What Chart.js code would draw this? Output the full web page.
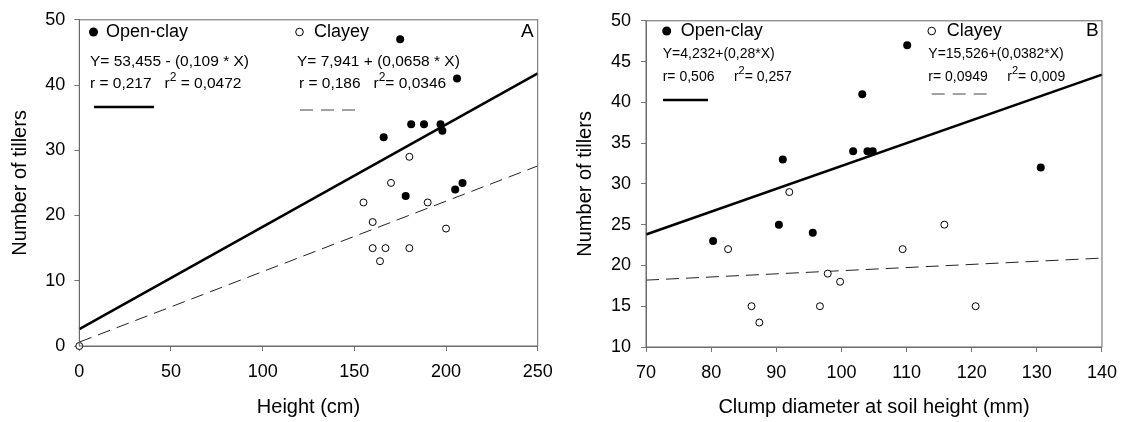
<!DOCTYPE html>
<html>
<head>
<meta charset="utf-8">
<script src="https://cdn.jsdelivr.net/npm/chart.js@4.4.1/dist/chart.umd.min.js"></script>
<style>
  body { margin: 0; background: #fff; width: 1127px; height: 422px; overflow: hidden; position: relative; }
  canvas { position: absolute; top: 0; }
</style>
</head>
<body>
<canvas id="chartA" width="563" height="422" style="left:0px;width:563px;height:422px"></canvas>
<canvas id="chartB" width="564" height="422" style="left:563px;width:564px;height:422px"></canvas>
<script>
// panel A - height vs tillers
const heightOpenClay = [166, 175, 181, 188, 197, 198, 178, 205, 206, 209];
const tillersOpenClayA = [32, 47, 34, 34, 34, 33, 23, 24, 41, 25];
const heightClayey = [0, 155, 160, 160, 164, 167, 170, 180, 180, 190, 200];
const tillersClayeyA = [0, 22, 19, 15, 13, 15, 25, 29, 15, 22, 18];
const fitXA = [0, 250];
const fitOpenClayA = [2.6, 41.8];
const fitClayeyA = [0.6, 27.6];
const xTicksA = [0, 50, 100, 150, 200, 250];
const yTicksA = [0, 10, 20, 30, 40, 50];

// panel B - clump diameter vs tillers
const diamOpenClay = [80.3, 90.4, 91, 95.6, 101.8, 103.2, 104, 104.8, 110.1, 130.6];
const tillersOpenClayB = [23, 25, 33, 24, 34, 41, 34, 34, 47, 32];
const diamClayey = [82.6, 86.2, 87.4, 92, 96.7, 97.9, 99.8, 109.4, 115.8, 120.6];
const tillersClayeyB = [22, 15, 13, 29, 15, 19, 18, 22, 25, 15];
const fitXB = [70, 140];
const fitOpenClayB = [23.8, 43.4];
const fitClayeyB = [18.2, 20.9];
const xTicksB = [70, 80, 90, 100, 110, 120, 130, 140];
const yTicksB = [10, 15, 20, 25, 30, 35, 40, 45, 50];

const FONT = "'Liberation Sans', Arial, sans-serif";

const toPoints = (xs, ys) => xs.map((x, i) => ({ x: x, y: ys[i] }));

function datasets(xOpen, yOpen, xClay, yClay, fitX, fitOpen, fitClay) {
  return [
    {
      type: "scatter", label: "Open-clay", data: toPoints(xOpen, yOpen),
      pointRadius: 4, pointBackgroundColor: "#000", pointBorderColor: "#000", pointBorderWidth: 0, order: 1
    },
    {
      type: "scatter", label: "Clayey", data: toPoints(xClay, yClay),
      pointRadius: 3.5, pointBackgroundColor: "#fff", pointBorderColor: "#000", pointBorderWidth: 1, order: 1
    },
    {
      type: "line", label: "fit open", data: toPoints(fitX, fitOpen),
      borderColor: "#000", borderWidth: 2.5, pointRadius: 0, fill: false, order: 2
    },
    {
      type: "line", label: "fit clayey", data: toPoints(fitX, fitClay),
      borderColor: "#222", borderWidth: 1, borderDash: [13, 7], pointRadius: 0, fill: false, order: 2
    }
  ];
}

function axis(ticks, title, opts) {
  return {
    type: "linear",
    min: ticks[0],
    max: ticks[ticks.length - 1],
    afterBuildTicks: (s) => { s.ticks = ticks.map((v) => ({ value: v })); },
    afterFit: opts.fit,
    grid: { display: true, drawOnChartArea: false, drawTicks: true, tickLength: 5, color: "#777" },
    border: { display: true, color: "#777", width: 1 },
    ticks: { color: "#000", font: { size: 18, family: FONT }, padding: opts.pad, autoSkip: false, maxRotation: 0 },
    title: { display: true, text: title, color: "#000", font: { size: 20, family: FONT }, padding: opts.titlePad }
  };
}

function supText(ctx, x, y, before, after, size) {
  ctx.font = size + "px " + FONT;
  ctx.fillText(before, x, y);
  let w = ctx.measureText(before).width;
  ctx.font = Math.round(size * 0.8) + "px " + FONT;
  ctx.fillText("2", x + w, y - size * 0.42);
  w += ctx.measureText("2").width;
  ctx.font = size + "px " + FONT;
  ctx.fillText(after, x + w, y);
}

// frame around the plot plus the text annotations of each panel
const framePlugin = {
  id: "frame",
  afterDraw(chart) {
    const { ctx, chartArea: a } = chart;
    ctx.save();
    ctx.strokeStyle = "#666";
    ctx.lineWidth = 1;
    ctx.strokeRect(a.left, a.top, a.right - a.left, a.bottom - a.top);
    const note = chart.options.plugins.frame;
    ctx.fillStyle = "#000";
    ctx.textBaseline = "middle";
    ctx.textAlign = "left";
    note.items.forEach((it) => {
      if (it.dot) {
        ctx.beginPath();
        ctx.lineWidth = 1;
        ctx.strokeStyle = "#000";
        ctx.arc(it.x, it.y, it.dot === "filled" ? 4.5 : 3.8, 0, Math.PI * 2);
        if (it.dot === "filled") { ctx.fill(); } else { ctx.fillStyle = "#fff"; ctx.fill(); ctx.fillStyle = "#000"; ctx.stroke(); }
      } else if (it.seg) {
        ctx.beginPath();
        ctx.strokeStyle = it.seg === "solid" ? "#000" : "#444";
        ctx.lineWidth = it.seg === "solid" ? 2.5 : 1;
        ctx.setLineDash(it.seg === "solid" ? [] : [13, 8]);
        ctx.moveTo(it.x, it.y);
        ctx.lineTo(it.x2, it.y);
        ctx.stroke();
        ctx.setLineDash([]);
      } else if (it.after !== undefined) {
        supText(ctx, it.x, it.y, it.text, it.after, it.size);
      } else {
        ctx.font = it.size + "px " + FONT;
        ctx.fillText(it.text, it.x, it.y);
      }
    });
    ctx.restore();
  }
};

new Chart(document.getElementById("chartA"), {
  data: { datasets: datasets(heightOpenClay, tillersOpenClayA, heightClayey, tillersClayeyA, fitXA, fitOpenClayA, fitClayeyA) },
  options: {
    responsive: false,
    animation: false,
    clip: false,
    layout: { padding: { top: 16, right: 25.3, left: 0, bottom: 0 } },
    scales: {
      x: axis(xTicksA, "Height (cm)", { pad: 10, titlePad: { top: 4, bottom: 3 }, fit: (s) => { s.height = 76; } }),
      y: axis(yTicksA, "Number of tillers", { pad: 9, titlePad: { top: 8, bottom: 4 }, fit: (s) => { s.width = 79.3; } })
    },
    plugins: {
      legend: { display: false },
      tooltip: { enabled: false },
      frame: {
        items: [
          { dot: "filled", x: 93.5, y: 32 },
          { text: "Open-clay", x: 106, y: 32, size: 18 },
          { text: "Y= 53,455 - (0,109 * X)", x: 90, y: 62, size: 15.5 },
          { text: "r = 0,217   r", after: " = 0,0472", x: 90, y: 84, size: 15.5 },
          { seg: "solid", x: 94, x2: 154, y: 107 },
          { dot: "open", x: 299.5, y: 32 },
          { text: "Clayey", x: 314, y: 32, size: 18 },
          { text: "Y= 7,941 + (0,0658 * X)", x: 297, y: 62, size: 15.5 },
          { text: "r = 0,186   r", after: "= 0,0346", x: 299, y: 84, size: 15.5 },
          { seg: "dash", x: 300, x2: 356, y: 110 },
          { text: "A", x: 521, y: 32, size: 19 }
        ]
      }
    }
  },
  plugins: [framePlugin]
});

new Chart(document.getElementById("chartB"), {
  data: { datasets: datasets(diamOpenClay, tillersOpenClayB, diamClayey, tillersClayeyB, fitXB, fitOpenClayB, fitClayeyB) },
  options: {
    responsive: false,
    animation: false,
    clip: false,
    layout: { padding: { top: 16, right: 24.3, left: 0, bottom: 0 } },
    scales: {
      x: axis(xTicksB, "Clump diameter at soil height (mm)", { pad: 10, titlePad: { top: 4, bottom: 3 }, fit: (s) => { s.height = 75; } }),
      y: axis(yTicksB, "Number of tillers", { pad: 10, titlePad: { top: 10, bottom: 4 }, fit: (s) => { s.width = 83; } })
    },
    plugins: {
      legend: { display: false },
      tooltip: { enabled: false },
      frame: {
        items: [
          { dot: "filled", x: 103.7, y: 31 },
          { text: "Open-clay", x: 117.7, y: 31, size: 18 },
          { text: "Y=4,232+(0,28*X)", x: 99.7, y: 54, size: 14 },
          { text: "r= 0,506     r", after: "= 0,257", x: 99.7, y: 77, size: 14 },
          { seg: "solid", x: 100, x2: 145, y: 100 },
          { dot: "open", x: 368.7, y: 31 },
          { text: "Clayey", x: 383.7, y: 31, size: 18 },
          { text: "Y=15,526+(0,0382*X)", x: 365.3, y: 54, size: 14 },
          { text: "r= 0,0949     r", after: "= 0,009", x: 365.3, y: 77, size: 14 },
          { seg: "dash", x: 368.7, x2: 424, y: 94 },
          { text: "B", x: 523, y: 31, size: 19 }
        ]
      }
    }
  },
  plugins: [framePlugin]
});
</script>
</body>
</html>
